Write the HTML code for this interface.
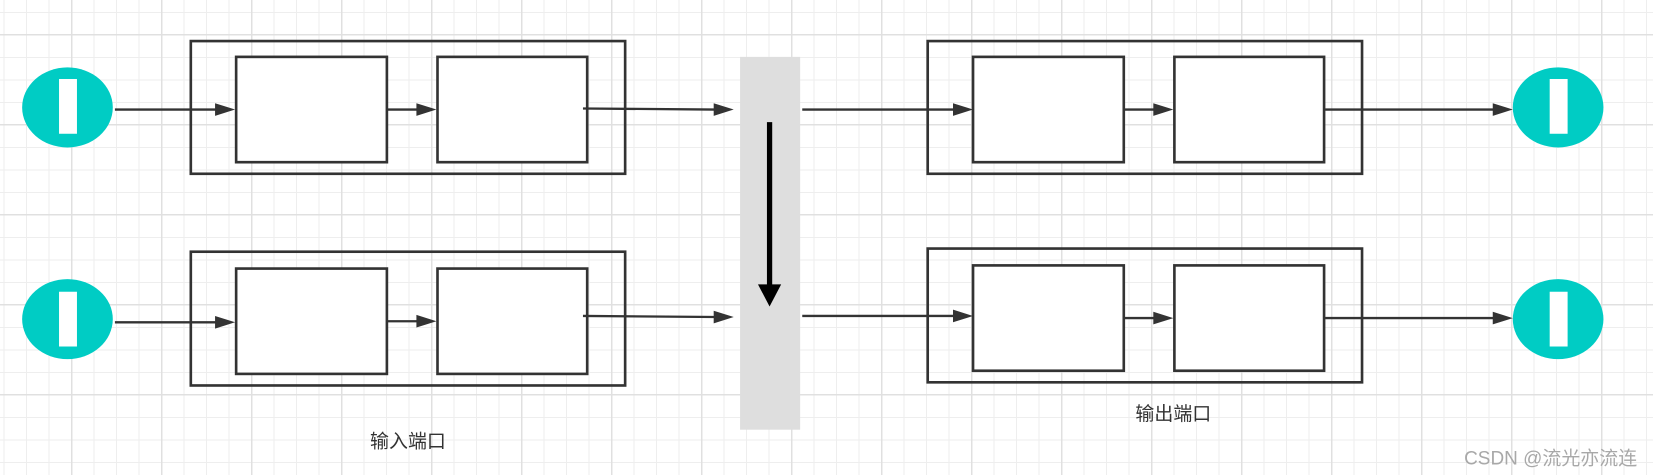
<!DOCTYPE html>
<html><head><meta charset="utf-8"><style>
html,body{margin:0;padding:0;}
body{width:1653px;height:475px;background-color:#fff;
background-image:
linear-gradient(to right,#e0e0e0 1.5px,transparent 1.5px),
linear-gradient(to bottom,#e0e0e0 1.5px,transparent 1.5px),
linear-gradient(to right,#eeeeee 1px,transparent 1px),
linear-gradient(to bottom,#eeeeee 1px,transparent 1px);
background-size:90px 90px,90px 90px,22.5px 22.5px,22.5px 22.5px;
background-position:71px 0,0 34px,3.5px 0,0 12px;}
svg{display:block;position:absolute;left:0;top:0;}
</style></head><body>
<svg width="1653" height="475" viewBox="0 0 1568 451" preserveAspectRatio="none" xmlns="http://www.w3.org/2000/svg">
<g fill="#00ccc4">
<ellipse cx="64" cy="102" rx="43" ry="38"/><ellipse cx="64" cy="303" rx="43" ry="38"/>
<ellipse cx="1478" cy="102" rx="43" ry="38"/><ellipse cx="1478" cy="303" rx="43" ry="38"/>
</g>
<g fill="#fff">
<rect x="56" y="75" width="17" height="52"/><rect x="56" y="277" width="17" height="52"/>
<rect x="1470" y="75" width="17" height="52"/><rect x="1470" y="277" width="17" height="52"/>
</g>
<rect x="702" y="54" width="57" height="354" fill="#dedede"/>
<g fill="none" stroke="#333" stroke-width="2.5">
<rect x="181" y="39" width="412" height="126"/><rect x="181" y="239" width="412" height="127"/>
<rect x="880" y="39" width="412" height="126"/><rect x="880" y="236" width="412" height="127"/>
<rect x="224" y="54" width="143" height="100" fill="#fff"/><rect x="415" y="54" width="142" height="100" fill="#fff"/>
<rect x="224" y="255" width="143" height="100" fill="#fff"/><rect x="415" y="255" width="142" height="100" fill="#fff"/>
<rect x="923" y="54" width="143" height="100" fill="#fff"/><rect x="1114" y="54" width="142" height="100" fill="#fff"/>
<rect x="923" y="252" width="143" height="100" fill="#fff"/><rect x="1114" y="252" width="142" height="100" fill="#fff"/>
</g>
<g stroke="#333" stroke-width="2.2">
<line x1="109" y1="104" x2="205" y2="104"/><line x1="368" y1="104" x2="396" y2="104"/>
<line x1="553" y1="103" x2="678" y2="104"/><line x1="761" y1="104" x2="905" y2="104"/>
<line x1="1067" y1="104" x2="1095" y2="104"/><line x1="1257" y1="104" x2="1417" y2="104"/>
<line x1="109" y1="306" x2="205" y2="306"/><line x1="368" y1="305" x2="396" y2="305"/>
<line x1="553" y1="300" x2="678" y2="301"/><line x1="761" y1="300" x2="905" y2="300"/>
<line x1="1067" y1="302" x2="1095" y2="302"/><line x1="1257" y1="302" x2="1417" y2="302"/>
</g>
<g fill="#333">
<path d="M204 98L223 104L204 110Z"/><path d="M395 98L414 104L395 110Z"/>
<path d="M677 98L696 104L677 110Z"/><path d="M904 98L923 104L904 110Z"/>
<path d="M1094 98L1113 104L1094 110Z"/><path d="M1416 98L1435 104L1416 110Z"/>
<path d="M204 300L223 306L204 312Z"/><path d="M395 299L414 305L395 311Z"/>
<path d="M677 295L696 301L677 307Z"/><path d="M904 294L923 300L904 306Z"/>
<path d="M1094 296L1113 302L1094 308Z"/><path d="M1416 296L1435 302L1416 308Z"/>
</g>
<line x1="730" y1="116" x2="730" y2="272" stroke="#000" stroke-width="5"/>
<path d="M719 270L741 270L730 291Z" fill="#000"/>
<g font-family="Liberation Sans, Noto Sans CJK SC, sans-serif" font-size="18" fill="#333" text-anchor="middle">
<text x="387" y="425">输入端口</text>
<text x="1113" y="399">输出端口</text>
</g>
<text x="1553" y="441" text-anchor="end" font-family="Liberation Sans, Noto Sans CJK SC, sans-serif" font-size="18" fill="#a8a8a8">CSDN @流光亦流连</text>
</svg>
</body></html>
